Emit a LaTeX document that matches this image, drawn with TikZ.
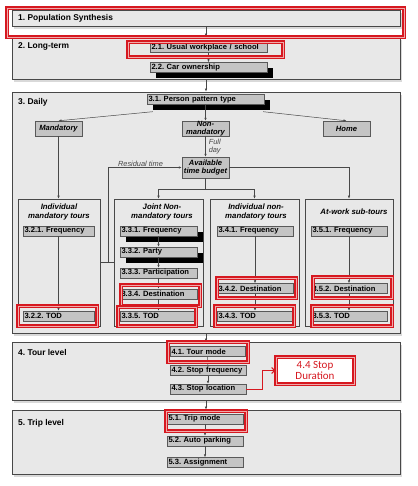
\documentclass[tikz,border=0pt]{standalone}
\usepackage{fontspec}
\setmainfont{Liberation Sans}
\newfontfamily\calibfont{Carlito}
\usetikzlibrary{arrows.meta, positioning, shadows}
\frenchspacing

\definecolor{secfill}{RGB}{232,232,232}
\definecolor{stepfill}{RGB}{196,196,196}
\definecolor{linegray}{RGB}{72,72,72}
\definecolor{hired}{RGB}{214,24,32}
\definecolor{hipink}{RGB}{240,170,170}

\begin{document}
\begin{tikzpicture}[
  >={Latex[length=3pt,width=2.4pt]},
  x=1pt, y=-1pt, % 像素坐标:原点在左上角
  secbox/.style={draw=linegray, fill=secfill, line width=0.7pt, minimum width=388pt, inner sep=0pt,
    drop shadow={shadow xshift=2pt, shadow yshift=-3pt, opacity=0.3}},
  seclabel/.style={font=\fontsize{8.4}{9}\selectfont\bfseries, inner sep=0pt, anchor=west},
  stepbox/.style={draw=gray!70!black, fill=stepfill, font=\fontsize{7.6}{8}\selectfont\bfseries,
    inner xsep=1.5pt, inner ysep=0pt, minimum height=10pt, text width=#1, align=left},
  blackshade/.style={drop shadow={shadow xshift=6pt, shadow yshift=-6pt, opacity=1, fill=black}},
  catbox/.style={draw=gray!70!black, fill=stepfill, font=\fontsize{7.6}{8}\selectfont\bfseries\itshape,
    align=center, minimum width=47pt, inner sep=0pt},
  tourbox/.style={draw=linegray, fill=secfill, line width=0.6pt, minimum width=#1, minimum height=127pt, inner sep=0pt},
  tourtitle/.style={font=\fontsize{7.8}{9}\selectfont\bfseries\itshape, align=center, inner sep=0pt},
  note/.style={font=\fontsize{7.4}{8.5}\selectfont\itshape, text=linegray, align=left, inner sep=1pt},
  conn/.style={draw=linegray, line width=0.5pt},
  hiframe/.style={draw=hired, line width=1.2pt, double=hipink, double distance=0.9pt}
]
  % 五个层级
  \node[secbox, minimum height=16pt]  (sec1) at (206,18)    {};
  \node[secbox, minimum height=42pt]  (sec2) at (206,58)    {};
  \node[secbox, minimum height=241pt] (sec3) at (206,212.5) {};
  \node[secbox, minimum height=58pt]  (sec4) at (206,371)   {};
  \node[secbox, minimum height=64pt]  (sec5) at (206,442)   {};

  \node[seclabel] (lab1) at (18,18)  {1. Population Synthesis};
  \node[seclabel] (lab2) at (18,46)  {2. Long-term};
  \node[seclabel] (lab3) at (18,102) {3. Daily};
  \node[seclabel] (lab4) at (18,352) {4. Tour level};
  \node[seclabel] (lab5) at (18,423) {5. Trip level};

  % 长期
  \node[stepbox=114pt] (s21) at (208.5,47.5) {2.1. Usual workplace / school};
  \node[stepbox=114pt, blackshade] (s22) at (208.5,67.5) {2.2. Car ownership};

  % 日计划
  \node[stepbox=114pt, blackshade] (s31) at (205.5,99.5) {3.1. Person pattern type};
  \node[catbox, minimum height=15pt] (mand)    at (58.5,128.5)  {Mandatory};
  \node[catbox, minimum height=15pt] (nonmand) at (205.5,128.5) {Non-\\mandatory};
  \node[catbox, minimum height=15pt] (home)    at (346.5,128.5) {Home};
  \node[catbox, minimum height=21pt] (avail)   at (205.5,167.5) {Available\\time budget};

  % 四类出行
  \node[tourbox=82pt] (indm)  at (59,262.5)    {};
  \node[tourbox=89pt] (joint) at (158.5,262.5) {};
  \node[tourbox=89pt] (indn)  at (254.5,262.5) {};
  \node[tourbox=88pt] (atw)   at (349,262.5)   {};

  \node[tourtitle] (indmT)  at (59,212)  {Individual\\mandatory tours};
  \node[tourtitle] (jointT) at (162,212) {Joint Non-\\mandatory tours};
  \node[tourtitle] (indnT)  at (256,212) {Individual non-\\mandatory tours};
  \node[tourtitle] (atwT)   at (354,212) {At-work sub-tours};

  \node[stepbox=68pt] (s321) at (58.5,231) {3.2.1. Frequency};
  \node[stepbox=68pt] (s322) at (58.5,316) {3.2.2. TOD};

  \node[stepbox=74pt, blackshade] (s331) at (158.5,231) {3.3.1. Frequency};
  \node[stepbox=74pt, blackshade] (s332) at (158.5,252) {3.3.2. Party};
  \node[stepbox=74pt] (s333) at (158.5,273) {3.3.3. Participation};
  \node[stepbox=74pt] (s334) at (158.5,294) {3.3.4. Destination};
  \node[stepbox=74pt] (s335) at (158.5,316) {3.3.5. TOD};

  \node[stepbox=73pt] (s341) at (255,231)   {3.4.1. Frequency};
  \node[stepbox=73pt] (s342) at (255,288.5) {3.4.2. Destination};
  \node[stepbox=73pt] (s343) at (255,316)   {3.4.3. TOD};

  \node[stepbox=73pt] (s351) at (349,231)   {3.5.1. Frequency};
  \node[stepbox=73pt] (s352) at (349,288.5) {3.5.2. Destination};
  \node[stepbox=73pt] (s353) at (349,316)   {3.5.3. TOD};

  % 出行层 / 行程层
  \node[stepbox=72pt] (s41) at (207.5,351.5) {4.1. Tour mode};
  \node[stepbox=73pt] (s42) at (208,370.5)   {4.2. Stop frequency};
  \node[stepbox=73pt] (s43) at (208,389)     {4.3. Stop location};
  \node[draw=hired, line width=1.2pt, double=hipink, double distance=0.9pt, fill=white,
    minimum width=78pt, minimum height=27pt, inner sep=0pt, align=center,
    font=\calibfont\fontsize{11}{11.5}\selectfont, text=hired] (s44) at (315,370.5) {4.4 Stop\\Duration};

  \node[stepbox=73pt] (s51) at (205,419)   {5.1. Trip mode};
  \node[stepbox=73pt] (s52) at (205,441)   {5.2. Auto parking};
  \node[stepbox=73pt] (s53) at (205,462.5) {5.3. Assignment};

  % 连线
  \foreach \a/\b in {sec1/sec2, sec2/sec3, sec3/sec4, sec4/sec5, s21/s22, s31/nonmand,
                     s321/s322, s331/s332, s332/s333, s333/s334, s334/s335,
                     s341/s342, s342/s343, s351/s352, s352/s353,
                     s41/s42, s42/s43, s51/s52, s52/s53} {
    \draw[conn, ->] (\a) -- (\b);
  }
  \draw[conn, ->] ([xshift=6pt,yshift=-7pt]s31.south west) -- (mand.north);
  \draw[conn, ->] ([xshift=-1pt,yshift=-7pt]s31.south east) -- (home.north);
  \draw[conn, ->] (mand.south) -- (mand |- indm.north);
  \draw[conn, ->] (nonmand) -- (avail) node[midway, right, note, xshift=2pt] {Full\\day};
  \draw[conn, ->] (avail.south) -- ++(0,11) -| (joint.north);
  \draw[conn, ->] (avail.south) -- ++(0,11) -| (indn.north);
  \draw[conn, ->] (avail.east) -| (atw.north);
  \draw[conn] (indm.east) -- (joint.west);
  \coordinate (rt) at (108,262.5);
  \draw[conn, ->] (rt) |- (avail.west) node[pos=0.72, above, note] {Residual time};
  \draw[hired, line width=1pt, -{Straight Barb[length=3pt]}] (s43.east) -- ++(16,0) |- (s44.west);

  % 红色标注框
  \foreach \xa/\ya/\xb/\yb in {7/8/404/37, 128/42/283/57, 18/306/97/326, 121/285/200/306,
                               118/307/196/326, 217/278/296/298, 215/306/294/326,
                               313/277/392/298, 312/306/392/326, 168/342/248/362, 166/411/246/431} {
    \draw[hiframe] (\xa,\ya) rectangle (\xb,\yb);
  }

  \useasboundingbox (0,0) rectangle (417,486);
\end{tikzpicture}
\end{document}
